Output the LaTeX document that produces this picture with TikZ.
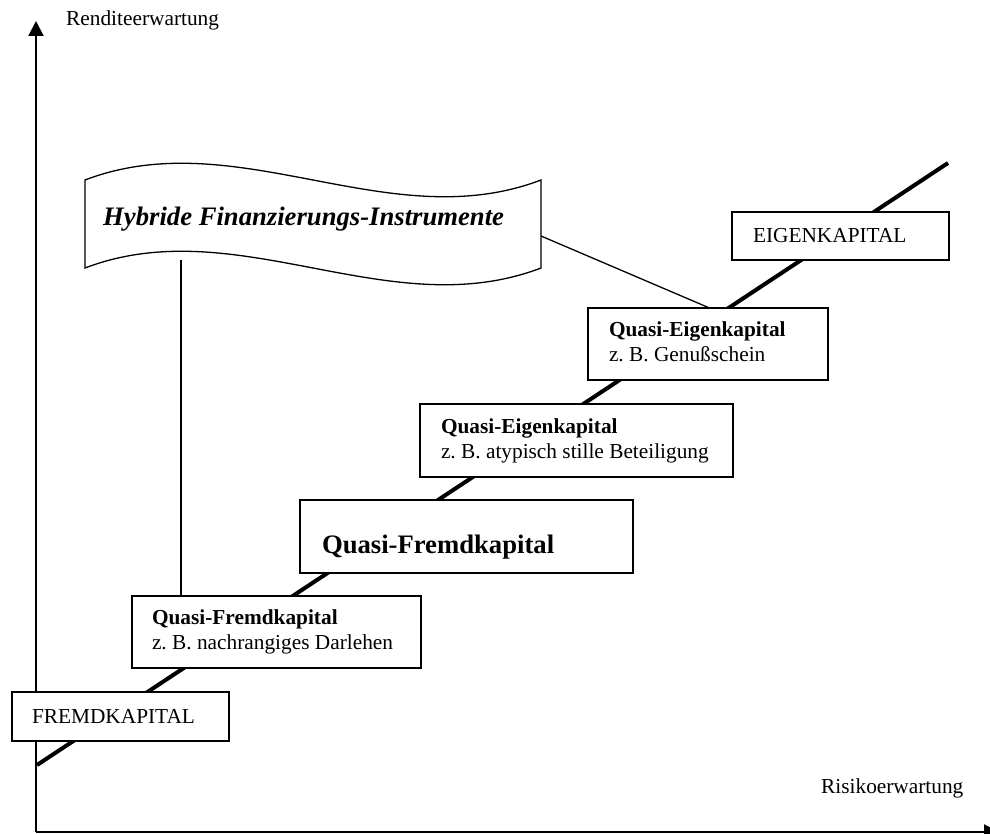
\documentclass[tikz,border=0pt]{standalone}
\usepackage{fontspec}
\setmainfont{Liberation Serif}
\usetikzlibrary{arrows.meta}
\frenchspacing
\newcommand{\boxtext}[2]{\makebox[#1][l]{\begin{tabular}{@{}l@{}}#2\end{tabular}}}
\begin{document}
\begin{tikzpicture}[x=1pt,y=-1pt,
  axis/.style={line width=2pt,-{Triangle[width=15pt,length=15pt]}},
  stair/.style={line width=4pt},
  conn/.style={line width=1.3pt},
  box/.style={draw,fill=white,line width=1.3pt,inner ysep=0pt,
    font=\fontsize{21.33}{25}\selectfont},
  lbl/.style={anchor=base west,inner sep=0pt,font=\fontsize{21.33}{25}\selectfont}]
\useasboundingbox (0,0) rectangle (990,834);
% axes
\coordinate (o) at (36,832);
\coordinate (ytip) at (36,21);
\coordinate (xtip) at (999,832);
\draw[axis] (o) -- (ytip);
\draw[axis] (o) -- (xtip);
\node[lbl] (ylab) at (66,26) {Renditeerwartung};
\node[lbl] (xlab) at (821,793) {Risikoerwartung};
% staircase line
\coordinate (ls) at (37,765);
\coordinate (le) at (948,163);
\draw[stair] (ls) -- (le);
% banner
\draw[conn,fill=white] (85,180) .. controls (237,122) and (389,238) .. (541,180)
  -- (541,268) .. controls (389,326) and (237,210) .. (85,268) -- cycle;
\node[anchor=base west,inner sep=0pt,font=\fontsize{26.67}{30}\selectfont\bfseries\itshape]
  (hfi) at (103,226) {Hybride Finanzierungs-Instrumente};
\coordinate (bb) at (181,260);
\coordinate (br) at (541,236);
% boxes
\node[box,minimum width=217pt,minimum height=49pt,inner xsep=20pt]
  (fk) at (120.5,716.5) {\makebox[177pt][l]{FREMDKAPITAL}};
\node[box,minimum width=217pt,minimum height=48pt,inner xsep=21pt]
  (ek) at (840.5,236) {\makebox[175pt][l]{EIGENKAPITAL}};
\node[box,minimum width=289pt,minimum height=72pt,inner xsep=20pt]
  (qfs) at (276.5,632) {\boxtext{249pt}{\textbf{Quasi-Fremdkapital}\\z. B. nachrangiges Darlehen}};
\node[box,minimum width=333pt,minimum height=73pt,inner xsep=22pt,
  text height=33pt,text depth=0pt,font=\fontsize{26.67}{30}\selectfont\bfseries]
  (qfb) at (466.5,536.5) {\makebox[289pt][l]{Quasi-Fremdkapital}};
\node[box,minimum width=313pt,minimum height=73pt,inner xsep=21pt]
  (qea) at (576.5,440.5) {\boxtext{271pt}{\textbf{Quasi-Eigenkapital}\\z. B. atypisch stille Beteiligung}};
\node[box,minimum width=240pt,minimum height=72pt,inner xsep=21pt]
  (qeg) at (708,344) {\boxtext{198pt}{\textbf{Quasi-Eigenkapital}\\z. B. Genußschein}};
% connectors
\draw[conn] (bb) -- (bb |- qfs.north);
\draw[conn] (br) -- (qeg.north);
\end{tikzpicture}
\end{document}
